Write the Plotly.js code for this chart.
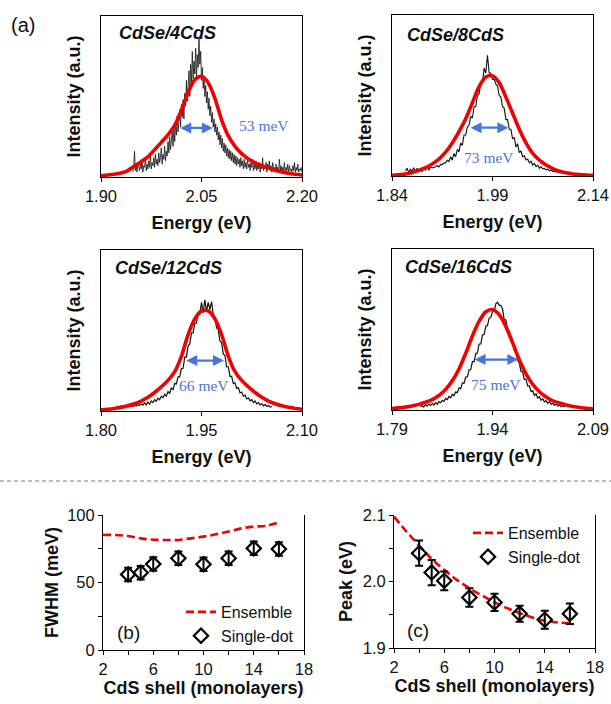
<!DOCTYPE html>
<html><head><meta charset="utf-8">
<script src="https://cdn.plot.ly/plotly-3.0.1.min.js"></script>
<style>html,body{margin:0;padding:0;background:#fff}#chart{width:611px;height:704px}</style>
</head><body><div id="chart"></div>
<script>
// ---------- Panel (a): PL spectra ----------
const sampleNames = ['CdSe/4CdS', 'CdSe/8CdS', 'CdSe/12CdS', 'CdSe/16CdS'];
const energyRanges = [[1.90, 2.20], [1.84, 2.14], [1.80, 2.10], [1.79, 2.09]];
const energyTicks = [[1.90, 2.05, 2.20], [1.84, 1.99, 2.14], [1.80, 1.95, 2.10], [1.79, 1.94, 2.09]];
const fwhmText = ['53 meV', '73 meV', '66 meV', '75 meV'];
const fwhmLeft = [2.016, 1.955, 1.925, 1.911];
const fwhmRight = [2.067, 2.0137, 1.9836, 1.9786];
const fwhmLevel = [0.305, 0.300, 0.313, 0.313];

// single-dot spectra (black), uniformly sampled from the start energy
const singleStep = [0.00125, 0.0025, 0.0025, 0.0025];
const singleStart = [1.9475, 1.86, 1.8225, 1.8325];
const single4 = [
 0.03,0.06,0.16,0.04,0.07,0.03,0.09,0.05,0.04,0.08,
 0.05,0.11,0.03,0.07,0.06,0.12,0.04,0.08,0.05,0.10,
 0.06,0.13,0.05,0.09,0.07,0.12,0.06,0.14,0.08,0.11,
 0.07,0.15,0.09,0.12,0.18,0.08,0.14,0.11,0.19,0.10,
 0.16,0.13,0.22,0.15,0.25,0.17,0.21,0.28,0.19,0.30,
 0.22,0.33,0.26,0.38,0.28,0.35,0.42,0.31,0.45,0.37,
 0.48,0.36,0.52,0.44,0.60,0.47,0.56,0.66,0.50,0.70,
 0.58,0.78,0.61,0.72,0.64,0.80,0.62,0.76,0.68,0.86,
 0.70,0.78,0.60,0.68,0.55,0.62,0.50,0.57,0.46,0.53,
 0.42,0.49,0.38,0.44,0.34,0.40,0.31,0.36,0.28,0.33,
 0.26,0.31,0.23,0.28,0.20,0.26,0.18,0.24,0.16,0.21,
 0.15,0.20,0.13,0.18,0.12,0.17,0.11,0.16,0.10,0.15,
 0.09,0.14,0.08,0.13,0.07,0.12,0.08,0.11,0.06,0.12,
 0.07,0.10,0.05,0.11,0.06,0.09,0.05,0.12,0.06,0.08,
 0.04,0.09,0.06,0.11,0.04,0.08,0.05,0.10,0.04,0.07,
 0.05,0.09,0.03,0.08,0.05,0.12,0.04,0.07,0.05,0.09,
 0.03,0.08,0.05,0.10,0.04,0.07,0.03,0.09,0.05,0.06,
 0.03,0.08,0.04,0.06,0.03,0.11,0.04,0.07,0.03,0.06,
 0.04,0.09,0.03,0.06,0.04,0.08,0.02,0.07,0.04,0.05,
 0.03,0.07,0.04,0.09,0.03,0.06,0.04,0.08,0.03,0.05,
 0.04,0.06,0.03];
const single8 = [
 0.03,0.048,0.022,0.042,0.03,0.052,0.026,0.048,0.03,0.044,
 0.027,0.05,0.036,0.06,0.036,0.056,0.05,0.052,0.058,0.064,
 0.056,0.072,0.07,0.082,0.08,0.098,0.09,0.12,0.098,0.14,
 0.12,0.165,0.15,0.205,0.19,0.255,0.255,0.305,0.315,0.37,
 0.36,0.43,0.43,0.50,0.51,0.58,0.58,0.67,0.64,0.75,
 0.64,0.64,0.60,0.60,0.57,0.56,0.50,0.49,0.43,0.42,
 0.35,0.35,0.29,0.29,0.23,0.24,0.18,0.20,0.145,0.155,
 0.12,0.125,0.10,0.105,0.082,0.092,0.068,0.078,0.058,0.068,
 0.048,0.058,0.045,0.048,0.038,0.042,0.032,0.036,0.028,0.03,
 0.024,0.028,0.02];
const single12 = [
 0.018,0.03,0.014,0.032,0.018,0.034,0.02,0.032,0.026,0.032,
 0.028,0.034,0.03,0.04,0.034,0.044,0.036,0.05,0.038,0.056,
 0.042,0.062,0.052,0.07,0.06,0.08,0.07,0.092,0.082,0.104,
 0.092,0.12,0.11,0.142,0.133,0.172,0.168,0.212,0.212,0.262,
 0.265,0.335,0.335,0.405,0.415,0.485,0.485,0.545,0.545,0.605,
 0.60,0.675,0.61,0.69,0.62,0.675,0.63,0.68,0.60,0.585,
 0.515,0.505,0.435,0.425,0.355,0.345,0.275,0.275,0.215,0.215,
 0.17,0.175,0.14,0.145,0.112,0.118,0.092,0.098,0.075,0.082,
 0.063,0.07,0.052,0.062,0.044,0.052,0.038,0.046,0.032,0.04,
 0.028,0.034,0.024,0.028];
const single16 = [
 0.018,0.028,0.018,0.034,0.024,0.038,0.027,0.041,0.031,0.046,
 0.036,0.052,0.045,0.06,0.052,0.072,0.064,0.084,0.076,0.098,
 0.088,0.112,0.108,0.138,0.132,0.168,0.166,0.205,0.205,0.25,
 0.25,0.30,0.30,0.35,0.355,0.41,0.41,0.465,0.47,0.52,
 0.525,0.57,0.575,0.61,0.615,0.66,0.67,0.65,0.65,0.63,
 0.56,0.56,0.50,0.49,0.44,0.43,0.37,0.36,0.31,0.29,
 0.24,0.235,0.19,0.19,0.15,0.15,0.115,0.12,0.09,0.10,
 0.074,0.082,0.06,0.07,0.05,0.058,0.042,0.052,0.035,0.042,
 0.03,0.036,0.025,0.031,0.02,0.026,0.018];

// ensemble spectra (red), sampled every 10 meV from the start energy
const ensStep = 0.01;
const ensStart = [1.90, 1.84, 1.80, 1.79];
const ens4 = [0.008,0.012,0.017,0.025,0.040,0.068,0.095,0.125,0.170,0.215,0.262,
 0.320,0.415,0.525,0.605,0.625,0.585,0.489,0.355,0.255,0.190,
 0.145,0.112,0.088,0.070,0.055,0.042,0.031,0.023,0.017,0.012];
const ens8 = [0.004,0.007,0.012,0.022,0.035,0.052,0.075,0.105,0.148,0.205,0.275,
 0.355,0.455,0.555,0.615,0.622,0.580,0.490,0.390,0.290,0.205,
 0.140,0.098,0.068,0.046,0.030,0.020,0.013,0.009,0.006,0.004];
const ens12 = [0.008,0.011,0.016,0.023,0.032,0.045,0.062,0.085,0.115,0.150,0.190,
 0.245,0.340,0.475,0.572,0.622,0.622,0.572,0.475,0.340,0.245,
 0.190,0.150,0.115,0.085,0.062,0.045,0.032,0.023,0.016,0.011];
const ens16 = [0.009,0.013,0.018,0.025,0.035,0.048,0.065,0.090,0.128,0.182,0.255,
 0.352,0.460,0.550,0.610,0.624,0.592,0.518,0.418,0.312,0.225,
 0.160,0.113,0.080,0.057,0.043,0.031,0.022,0.016,0.011,0.008];

// ---------- Panels (b) and (c) ----------
const ensembleShell = [2,3,4,5,6,7,8,9,10,11,12,13,14,15,16];
const ensembleFWHM = [85.2,85.2,84.4,82.7,81.7,81.5,81.5,82.7,84.0,85.7,87.7,90.1,91.4,91.9,94.6];
const ensemblePeak = [2.0975,2.075,2.054,2.034,2.0175,2.0025,1.990,1.979,1.969,1.960,1.9525,1.946,1.941,1.9385,1.9375];
const dotShell = [4,5,6,8,10,12,14,16];
const dotFWHM = [56,57.3,63.7,67.9,63.5,67.9,75.3,74.8];
const dotFWHMErr = [5,5,5,5,5,5,5,5];
const dotPeak = [2.0425,2.0135,2.001,1.976,1.9685,1.9515,1.9425,1.9515];
const dotPeakErr = [0.019,0.019,0.014,0.014,0.013,0.012,0.0135,0.0155];

// ---------- styling / layout ----------
const FONT = 'Arial, "Liberation Sans", Helvetica, sans-serif';
const SERIF = '"Times New Roman", "Liberation Serif", serif';
const BLUE = '#4a74dc';
const RED = '#f00000';
const W = 611, H = 704;
const px = v => v / W, py = v => (H - v) / H;

const singles = [single4, single8, single12, single16];
const ensembles = [ens4, ens8, ens12, ens16];
// frame boxes [left, right, top, bottom] in px
const boxes = [[101, 302, 16, 177], [392, 593, 15, 176], [101, 302, 250, 411], [392, 593, 249, 410]];
const labelPos = [[0.081, 0.895], [0.065, 0.878], [0.061, 0.89], [0.056, 0.888]];
const textPos = [[0.677, 0.32, 'left'], [0.481, 0.112, 'center'], [0.511, 0.161, 'center'], [0.517, 0.161, 'center']];
const blackWidth = [0.8, 1.1, 1.2, 1.2];

const traces = [];
const layout = {
  width: W, height: H, margin: {l: 0, r: 0, t: 0, b: 0},
  paper_bgcolor: '#fff', plot_bgcolor: 'rgba(0,0,0,0)',
  font: {family: FONT, color: '#111', size: 16},
  annotations: [], shapes: [],
  showlegend: true
};

for (let i = 0; i < 4; i++) {
  const n = i + 1;
  const xa = 'x' + (n === 1 ? '' : n), ya = 'y' + (n === 1 ? '' : n);
  const xs = singles[i].map((_, k) => +(singleStart[i] + k * singleStep[i]).toFixed(6));
  traces.push({x: xs, y: singles[i], type: 'scatter', mode: 'lines', xaxis: xa, yaxis: ya,
    line: {color: '#111', width: blackWidth[i]}, showlegend: false, hoverinfo: 'skip'});
  const xe = ensembles[i].map((_, k) => +(ensStart[i] + k * ensStep).toFixed(4));
  traces.push({x: xe, y: ensembles[i], type: 'scatter', mode: 'lines', xaxis: xa, yaxis: ya,
    line: {color: RED, width: 3.6, shape: 'spline', smoothing: 0.8}, showlegend: false, hoverinfo: 'skip'});
  const b = boxes[i];
  layout['xaxis' + (n === 1 ? '' : n)] = {
    domain: [px(b[0]), px(b[1])], anchor: ya, range: energyRanges[i],
    tickvals: energyTicks[i], ticktext: energyTicks[i].map(v => v.toFixed(2)),
    ticks: 'outside', ticklen: 4, tickcolor: '#000', tickwidth: 1,
    showline: true, mirror: true, linecolor: '#000', linewidth: 1,
    showgrid: false, zeroline: false, tickfont: {size: 16.5, family: FONT, color: '#111'},
    title: {text: '<b>Energy (eV)</b>', font: {size: 18, family: FONT, color: '#111'}, standoff: 12},
    fixedrange: true
  };
  layout['yaxis' + (n === 1 ? '' : n)] = {
    domain: [py(b[3]), py(b[2])], anchor: xa, range: [0, 1],
    showticklabels: false, ticks: '', showline: true, mirror: true, linecolor: '#000', linewidth: 1,
    showgrid: false, zeroline: false,
    title: {text: '<b>Intensity (a.u.)</b>', font: {size: 18, family: FONT, color: '#111'}, standoff: 14},
    fixedrange: true
  };
  layout.annotations.push({xref: xa + ' domain', yref: ya + ' domain', x: labelPos[i][0], y: labelPos[i][1],
    xanchor: 'left', yanchor: 'middle', showarrow: false, text: '<b><i>' + sampleNames[i] + '</i></b>',
    font: {size: 18, family: FONT, color: '#111'}});
  layout.annotations.push({xref: xa + ' domain', yref: ya + ' domain', x: textPos[i][0], y: textPos[i][1],
    xanchor: textPos[i][2], yanchor: 'middle', showarrow: false, text: fwhmText[i],
    font: {size: 15.5, family: SERIF, color: BLUE}});
  layout.annotations.push({xref: xa, yref: ya, axref: xa, ayref: ya,
    x: fwhmRight[i], y: fwhmLevel[i], ax: fwhmLeft[i], ay: fwhmLevel[i], text: '',
    showarrow: true, arrowhead: 2, arrowside: 'end+start', arrowsize: 1, arrowwidth: 2.2,
    arrowcolor: BLUE, standoff: 0, startstandoff: 0});
}

// (b)
traces.push({x: ensembleShell, y: ensembleFWHM, type: 'scatter', mode: 'lines', name: 'Ensemble',
  xaxis: 'x5', yaxis: 'y5', legend: 'legend', line: {color: RED, width: 2.6, dash: '8px,4px', shape: 'spline'}});
traces.push({x: dotShell, y: dotFWHM, type: 'scatter', mode: 'markers', name: 'Single-dot',
  xaxis: 'x5', yaxis: 'y5', legend: 'legend',
  marker: {symbol: 'diamond-open', size: 11, color: '#000', line: {width: 2.2, color: '#000'}},
  error_y: {type: 'data', array: dotFWHMErr, visible: true, color: '#000', thickness: 2, width: 4}});
// (c)
traces.push({x: ensembleShell, y: ensemblePeak, type: 'scatter', mode: 'lines', name: 'Ensemble',
  xaxis: 'x6', yaxis: 'y6', legend: 'legend2', line: {color: RED, width: 2.6, dash: '8px,4px', shape: 'spline'}});
traces.push({x: dotShell, y: dotPeak, type: 'scatter', mode: 'markers', name: 'Single-dot',
  xaxis: 'x6', yaxis: 'y6', legend: 'legend2',
  marker: {symbol: 'diamond-open', size: 11, color: '#000', line: {width: 2.2, color: '#000'}},
  error_y: {type: 'data', array: dotPeakErr, visible: true, color: '#000', thickness: 2, width: 4}});

const shellAxis = (dom, ya) => ({
  domain: dom, anchor: ya, range: [2, 18], tick0: 2, dtick: 4,
  ticks: 'outside', ticklen: 4, tickcolor: '#000', tickwidth: 1,
  minor: {dtick: 2, tick0: 2, ticks: 'outside', ticklen: 4, tickcolor: '#000', tickwidth: 1, showgrid: false},
  showline: true, mirror: false, linecolor: '#000', linewidth: 1, showgrid: false, zeroline: false,
  tickfont: {size: 16.5, family: FONT, color: '#111'},
  title: {text: '<b>CdS shell (monolayers)</b>', font: {size: 18, family: FONT, color: '#111'}, standoff: 4},
  fixedrange: true
});
layout.xaxis5 = shellAxis([px(103), px(304)], 'y5');
layout.xaxis6 = shellAxis([px(394), px(595)], 'y6');
layout.yaxis5 = {domain: [py(650), py(515)], anchor: 'x5', range: [0, 100], tick0: 0, dtick: 50,
  ticks: 'outside', ticklen: 4, tickcolor: '#000', tickwidth: 1,
  minor: {dtick: 25, ticks: 'outside', ticklen: 4, tickcolor: '#000', tickwidth: 1, showgrid: false},
  showline: true, mirror: true, linecolor: '#000', linewidth: 1, showgrid: false, zeroline: false,
  tickfont: {size: 16.5, family: FONT, color: '#111'},
  title: {text: '<b>FWHM (meV)</b>', font: {size: 18, family: FONT, color: '#111'}, standoff: 3},
  fixedrange: true};
layout.yaxis6 = {domain: [py(648), py(515)], anchor: 'x6', range: [1.9, 2.1], tick0: 1.9, dtick: 0.1, tickformat: '.1f',
  ticks: 'outside', ticklen: 4, tickcolor: '#000', tickwidth: 1,
  minor: {dtick: 0.05, ticks: 'outside', ticklen: 4, tickcolor: '#000', tickwidth: 1, showgrid: false},
  showline: true, mirror: true, linecolor: '#000', linewidth: 1, showgrid: false, zeroline: false,
  tickfont: {size: 16.5, family: FONT, color: '#111'},
  title: {text: '<b>Peak (eV)</b>', font: {size: 18, family: FONT, color: '#111'}, standoff: 5},
  fixedrange: true};

layout.legend = {x: px(181), y: py(595), xanchor: 'left', yanchor: 'top', xref: 'paper', yref: 'paper',
  bgcolor: 'rgba(0,0,0,0)', font: {size: 16, family: FONT, color: '#111'}, itemwidth: 30, tracegroupgap: 0};
layout.legend2 = {x: px(468), y: py(516), xanchor: 'left', yanchor: 'top', xref: 'paper', yref: 'paper',
  bgcolor: 'rgba(0,0,0,0)', font: {size: 16, family: FONT, color: '#111'}, itemwidth: 30, tracegroupgap: 0};

layout.annotations.push({xref: 'paper', yref: 'paper', x: px(9), y: py(25), xanchor: 'left', yanchor: 'middle',
  showarrow: false, text: '(a)', font: {size: 20, family: FONT, color: '#111'}});
layout.annotations.push({xref: 'x5 domain', yref: 'y5 domain', x: 0.06, y: (650 - 632) / (650 - 515), xanchor: 'left', yanchor: 'middle',
  showarrow: false, text: '(b)', font: {size: 19, family: FONT, color: '#111'}});
layout.annotations.push({xref: 'x6 domain', yref: 'y6 domain', x: 0.055, y: 0.13, xanchor: 'left', yanchor: 'middle',
  showarrow: false, text: '(c)', font: {size: 19, family: FONT, color: '#111'}});

layout.shapes.push({type: 'line', xref: 'paper', yref: 'paper', x0: 0, x1: 1, y0: py(481), y1: py(481),
  line: {color: '#a8a8a8', width: 1.3, dash: '4px,3px'}});

Plotly.newPlot('chart', traces, layout, {displayModeBar: false, staticPlot: true});
</script></body></html>
